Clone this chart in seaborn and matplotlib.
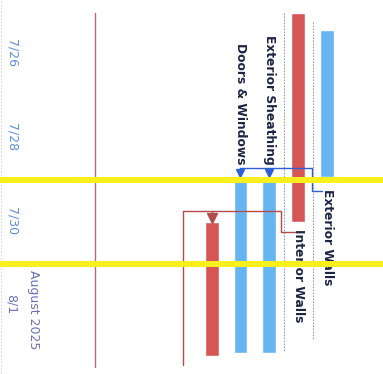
import matplotlib
matplotlib.use("Agg")
import matplotlib.pyplot as plt
import seaborn as sns
import numpy as np

# Timeline in July day numbers (32 = Aug 1); fractional values are part-days
tasks = ["", "Doors & Windows", "Exterior Sheathing", "Interior Walls", "Exterior Walls"]
starts = [30.03, 28.96, 28.96, 25.05, 25.45]
finishes = [33.23, 33.16, 33.16, 30.03, 28.96]
critical = [True, False, False, True, False]
label_side = ["none", "before", "before", "after", "after"]

tick_days = [26, 28, 30, 32]
tick_labels = ["7/26", "7/28", "7/30", "8/1"]
month_label = "August 2025"
month_start = 31.18

highlight_days = [29.04, 31.035]

sns.set_theme(style="white")
plt.rcParams["font.family"] = ["DejaVu Sans"]

RED = "#d65656"
BLUE = "#66b5f1"
LINK_BLUE = "#2f5fd6"
LINK_RED = "#b44a4c"
TEXT = "#1c2444"
DATE = "#5d8fd8"
MONTH = "#6c70b4"

fig = plt.figure(figsize=(3.83, 3.74), dpi=100)
ax = fig.add_axes([0, 0, 1, 1])

cols = np.arange(len(tasks))
durations = np.array(finishes) - np.array(starts)
colors = [RED if c else BLUE for c in critical]
ax.bar(cols, durations, bottom=starts, width=0.48, color=colors, zorder=3)

# row separators and the red status line
ax.plot([2.5, 2.5], [25.05, 33.14], color="#9c9c9c", lw=0.8, ls=(0, (1.5, 1.2)), zorder=1)
ax.plot([3.5, 3.5], [25.26, 32.83], color="#9c9c9c", lw=0.8, ls=(0, (1.5, 1.2)), zorder=1)
ax.plot([-4.03, -4.03], [25.05, 33.5], color="#c0686e", lw=1.0, zorder=1)
ax.plot([-7.27, -7.27], [24.75, 33.66], color="#d8d8d8", lw=0.8, ls=(0, (1.5, 1.5)), zorder=1)

# finish-to-start link: Exterior Walls -> Doors & Windows / Exterior Sheathing
ax.plot([3.82, 3.48, 3.48, 1.0], [29.29, 29.29, 28.745, 28.745], color=LINK_BLUE, lw=1.0, zorder=4)
for c in (1, 2):
    ax.plot([c, c], [28.745, 28.9], color=LINK_BLUE, lw=1.0, zorder=4)
    ax.plot([c], [28.87], marker="v", ms=5.5, color=LINK_BLUE, zorder=4)

# finish-to-start link: Interior Walls -> following tasks
ax.plot([2.88, 2.41, 2.41, -0.99, -0.99], [30.27, 30.27, 29.77, 29.77, 33.45],
        color=LINK_RED, lw=1.0, zorder=4)
ax.plot([0, 0], [29.77, 29.9], color=LINK_RED, lw=1.0, zorder=4)
ax.plot([0], [29.93], marker="v", ms=7.5, color=LINK_RED, zorder=4)

# task names, rotated along the time direction
for c, name, s, f, side in zip(cols, tasks, starts, finishes, label_side):
    if side == "before":
        ax.text(c, s - 0.29, name, rotation=-90, ha="center", va="bottom",
                fontsize=8.8, fontweight="bold", color=TEXT, zorder=5)
    elif side == "after":
        gap = 0.17 if c == 3 else 0.29
        ax.text(c, f + gap, name, rotation=-90, ha="center", va="top",
                fontsize=8.8, fontweight="bold", color=TEXT, zorder=5)

ax.text(-6.16, month_start, month_label, rotation=-90, ha="center", va="top",
        fontsize=9, color=MONTH, zorder=5)

# highlighter strokes across the whole sheet
for d in highlight_days:
    ax.axhspan(d - 0.07, d + 0.07, color="#f8ef1c", lw=0, zorder=10)

ax.set_xlim(-7.32, 5.93)
ax.set_ylim(33.661, 24.735)
ax.set_xticks([])
ax.set_yticks(tick_days)
ax.set_yticklabels(tick_labels, rotation=-90, ha="left", va="center", fontsize=9)
ax.tick_params(axis="y", length=0, pad=-3.6)
for lbl in ax.get_yticklabels():
    lbl.set_color(MONTH if lbl.get_text() == "8/1" else DATE)
for sp in ax.spines.values():
    sp.set_visible(False)
ax.set_facecolor("white")
fig.patch.set_facecolor("white")

fig.savefig("out.png", dpi=100)
